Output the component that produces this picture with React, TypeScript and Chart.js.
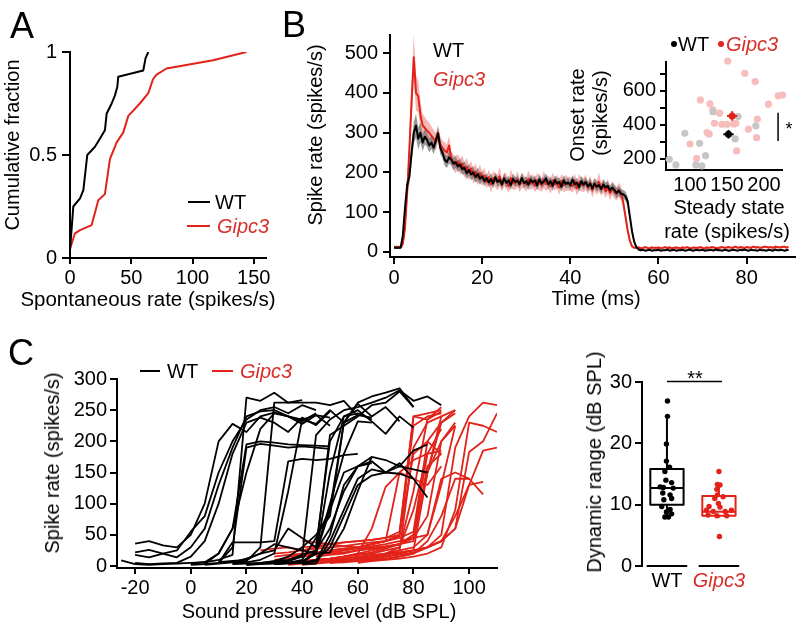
import React, { useEffect, useRef } from 'react';
import { Chart, registerables } from 'chart.js';

Chart.register(...registerables);

const FONT = "'Liberation Sans', Arial, Helvetica, sans-serif";
Chart.defaults.font.family = FONT;
Chart.defaults.color = '#000';

const BLACK = '#000000';
const RED = '#e2231a';
const RED_TEXT = '#d7302a';
const PINK_BAND = 'rgba(242,150,150,0.7)';
const GRAY_BAND = 'rgba(110,110,110,0.7)';
const GRAY_DOT = '#c6c6c6';
const PINK_DOT = '#f7bdbd';

// ---------------- Panel A: cumulative spontaneous rate ----------------
const wtSpontRate = [0, 2.7, 8.2, 10.9, 14.1, 20.4, 24.5, 28.5, 29.9, 34, 36.7, 38.6, 39.4, 59.8, 61.7, 63.9];
const wtCumFraction = [0.037, 0.25, 0.29, 0.33, 0.5, 0.54, 0.58, 0.62, 0.7, 0.75, 0.79, 0.83, 0.88, 0.91, 0.97, 1];
const gipc3SpontRate = [0, 4.1, 8.2, 17.7, 23.1, 28.5, 32.6, 38, 43.5, 47.6, 57, 63.9, 67.9, 70.7, 78.8, 116.8, 144];
const gipc3CumFraction = [0.045, 0.12, 0.135, 0.16, 0.28, 0.31, 0.48, 0.56, 0.61, 0.69, 0.75, 0.8, 0.87, 0.89, 0.92, 0.96, 1];
const cdfXTicks = [0, 50, 100, 150];
const cdfYTicks = [0, 0.5, 1];

// ---------------- Panel B: PSTH (0.5 ms bins) ----------------
const binMs = 0.5;
const wtRate = [
  10, 10, 10, 10, 40, 110, 168, 190, 250, 300,
  318, 285, 300, 275, 290, 282, 268, 275, 262, 280,
  298, 262, 250, 232, 226, 238, 232, 222, 226, 215,
  220, 208, 212, 198, 206, 195, 200, 188, 196, 184,
  190, 178, 186, 175, 183, 172, 188, 176, 181, 170,
  185, 174, 180, 168, 184, 176, 179, 171, 186, 173,
  178, 169, 182, 175, 180, 167, 183, 172, 177, 185,
  170, 178, 166, 181, 172, 176, 164, 180, 171, 175,
  168, 182, 170, 174, 163, 178, 169, 176, 165, 172,
  160, 172, 164, 168, 158, 170, 162, 166, 155, 162,
  156, 148, 154, 146, 145, 140, 128, 90, 52, 25,
  12, 6, 4, 5, 3, 4, 5, 3, 4, 4,
  5, 3, 4, 4, 6, 3, 4, 5, 3, 4,
  4, 5, 3, 4, 6, 4, 3, 5, 4, 4,
  5, 3, 4, 4, 5, 3, 6, 4, 4, 3,
  5, 4, 3, 4, 5, 4, 3, 5, 4, 6,
  4, 3, 5, 4, 4, 3, 5, 4, 4, 3,
  5, 4, 3, 6, 4, 4, 5, 3, 4, 5,
];
const gipc3Rate = [
  12, 12, 12, 12, 20, 60, 150, 260, 380, 490,
  400, 392, 345, 318, 312, 305, 300, 292, 285, 276,
  300, 270, 262, 255, 250, 268, 235, 225, 220, 228,
  214, 222, 206, 215, 200, 210, 192, 202, 188, 198,
  185, 192, 176, 188, 170, 186, 180, 175, 190, 168,
  182, 178, 165, 186, 175, 172, 183, 168, 180, 176,
  170, 184, 172, 178, 166, 180, 174, 168, 182, 171,
  176, 165, 180, 170, 177, 162, 179, 168, 174, 170,
  172, 165, 178, 160, 176, 170, 168, 175, 162, 174,
  156, 170, 162, 176, 158, 166, 152, 165, 148, 160,
  152, 146, 156, 148, 125, 90, 55, 28, 14, 10,
  10, 11, 9, 10, 12, 10, 9, 11, 10, 10,
  11, 9, 10, 12, 10, 11, 9, 10, 11, 10,
  9, 11, 10, 12, 10, 9, 11, 10, 10, 12,
  10, 9, 11, 10, 12, 11, 10, 9, 11, 12,
  10, 11, 12, 10, 11, 13, 10, 12, 11, 10,
  12, 11, 10, 13, 11, 12, 10, 11, 13, 12,
  11, 12, 10, 13, 12, 11, 12, 13, 11, 12,
];
const wtSem = [
  3, 3, 3, 3, 10, 15, 20, 20, 25, 28,
  30, 28, 25, 22, 20, 18, 18, 16, 16, 16,
  15, 16, 14, 15, 15, 16, 14, 15, 15, 14,
  15, 14, 16, 15, 14, 15, 15, 14, 16, 15,
  12, 13, 11, 12, 14, 12, 11, 13, 12, 12,
  13, 12, 11, 12, 13, 12, 12, 11, 13, 12,
  12, 13, 12, 11, 12, 13, 12, 12, 11, 12,
  13, 12, 12, 11, 13, 12, 12, 13, 11, 12,
  12, 11, 13, 12, 12, 13, 12, 11, 12, 13,
  12, 12, 13, 11, 12, 12, 13, 12, 11, 12,
  12, 13, 12, 12, 11, 12, 12, 10, 8, 6,
  2, 2, 2, 2, 2, 2, 2, 2, 2, 2,
  2, 2, 2, 2, 2, 2, 2, 2, 2, 2,
  2, 2, 2, 2, 2, 2, 2, 2, 2, 2,
  2, 2, 2, 2, 2, 2, 2, 2, 2, 2,
  2, 2, 2, 2, 2, 2, 2, 2, 2, 2,
  2, 2, 2, 2, 2, 2, 2, 2, 2, 2,
  2, 2, 2, 2, 2, 2, 2, 2, 2, 2,
];
const gipc3Sem = [
  4, 4, 4, 4, 10, 20, 30, 40, 50, 58,
  45, 40, 35, 30, 28, 26, 25, 24, 22, 22,
  20, 22, 18, 21, 20, 24, 19, 20, 22, 18,
  20, 21, 19, 22, 20, 18, 21, 20, 19, 22,
  18, 20, 16, 19, 22, 17, 18, 20, 24, 16,
  18, 19, 17, 22, 18, 16, 20, 18, 19, 17,
  18, 21, 17, 18, 16, 20, 18, 17, 22, 18,
  17, 18, 20, 16, 18, 19, 17, 18, 20, 17,
  18, 16, 19, 18, 20, 17, 18, 19, 16, 18,
  19, 17, 18, 24, 17, 18, 16, 19, 18, 17,
  18, 17, 18, 18, 15, 12, 10, 6, 4, 3,
  3, 3, 3, 3, 3, 3, 3, 3, 3, 3,
  3, 3, 3, 3, 3, 3, 3, 3, 3, 3,
  3, 3, 3, 3, 3, 3, 3, 3, 3, 3,
  3, 3, 3, 3, 3, 3, 3, 3, 3, 3,
  3, 3, 3, 3, 3, 3, 3, 3, 3, 3,
  3, 3, 3, 3, 3, 3, 3, 3, 3, 3,
  3, 3, 3, 3, 3, 3, 3, 3, 3, 3,
];
const psthXTicks = [0, 20, 40, 60, 80];
const psthYTicks = [0, 100, 200, 300, 400, 500];

// ---------------- Panel B inset: onset vs steady-state ----------------
const wtSteady = [72, 81, 93, 113, 108, 116, 121, 131, 165, 161, 189];
const wtOnset = [198, 165, 351, 292, 165, 159, 219, 478, 449, 318, 394];
const gipc3Steady = [151, 174, 188, 219, 225, 206, 114, 127, 131, 140, 191, 133, 143, 150, 159, 162, 179, 123, 126, 190, 100, 163, 109];
const gipc3Onset = [776, 704, 655, 571, 576, 522, 547, 524, 488, 469, 435, 410, 404, 404, 406, 410, 375, 355, 347, 325, 288, 247, 203];
const wtMean = { steady: 152, steadySem: 7, onset: 345, onsetSem: 25 };
const gipc3Mean = { steady: 157, steadySem: 7, onset: 453, onsetSem: 28 };
const insetSigSteady = 219;
const insetSigOnset = [306, 471];
const insetXTicks = [100, 150, 200];
const insetYTicks = [200, 300, 400, 500, 600, 700];

// ---------------- Panel C: rate-level functions ----------------
const levelStep = 5;
const wtStartLevels = [-20, -20, -20, -20, -25, 0, 5, 10, 15, 15, 20, 15, 20, 25, 30, 35, 30, 40, 40, 30, 10, 40, 0, 5];
const wtRates = [
  [36, 40, 33, 30, 50, 100, 200, 228, 215, 240, 246, 240, 232, 245],
  [22, 26, 20, 14, 30, 60, 130, 190, 240, 248, 250, 240, 228, 242, 225],
  [18, 14, 20, 25, 55, 80, 150, 200, 235, 250, 255, 245, 258, 250],
  [5, 3, 4, 5, 15, 40, 100, 180, 230, 238, 230, 215, 238, 226, 248],
  [9, 3, 2, 3, 4, 5, 6, 10, 18, 270, 265, 278, 262, 266],
  [4, 6, 20, 60, 195, 200, 198, 195, 194, 193, 192],
  [3, 20, 60, 150, 220, 245, 240, 235, 242, 238],
  [5, 38, 38, 38, 40, 168, 172, 170, 172, 178, 180],
  [5, 8, 30, 262, 262, 262, 262, 258, 265, 240],
  [4, 6, 10, 20, 120, 235, 228, 250, 230, 242, 238],
  [2, 4, 8, 15, 30, 50, 80, 230, 260, 240, 255, 232],
  [3, 4, 5, 6, 8, 15, 210, 235, 250, 255, 262, 270, 282, 265, 272, 258],
  [2, 3, 4, 5, 8, 20, 90, 230, 262, 272, 278, 285, 255],
  [5, 8, 10, 18, 25, 210, 225, 240, 258, 262, 280, 255],
  [4, 5, 6, 20, 150, 240, 250, 232, 212, 240, 222],
  [5, 6, 22, 100, 180, 232, 230],
  [3, 4, 5, 25, 60, 120, 160, 165],
  [5, 10, 30, 80, 130, 145, 150, 148, 140, 110],
  [4, 8, 50, 130, 160, 168, 150, 160, 155, 150],
  [3, 5, 10, 45, 90, 150, 160, 175, 170, 160, 185, 195],
  [6, 8, 10, 20, 25, 60, 45, 30, 200, 240, 245, 235],
  [3, 4, 40, 90, 140, 155, 150, 165, 140],
  [2, 3, 5, 30, 190, 196, 193, 190, 192, 190, 188],
  [2, 4, 6, 12, 20, 35, 30, 25, 20, 22, 60, 120, 175],
];
const gipc3StartLevels = [25, 30, 35, 40, 45, 50, 55, 35, 40, 45, 50, 50, 60, 60, 60, 40, 35, 45, 50, 30, 40, 60, 30, 45];
const gipc3Rates = [
  [25, 28, 30, 25, 30, 35, 38, 40, 42, 45, 55, 240, 245, 250],
  [20, 22, 25, 28, 30, 32, 35, 38, 40, 48, 225, 240, 245],
  [5, 8, 10, 12, 15, 18, 20, 25, 30, 120, 235, 248],
  [40, 38, 35, 32, 30, 35, 40, 50, 180, 200, 180],
  [10, 12, 15, 20, 25, 30, 35, 40, 160, 180],
  [5, 8, 10, 15, 20, 30, 90, 180, 220],
  [15, 20, 60, 127, 150, 140, 130, 160],
  [2, 4, 6, 8, 10, 12, 15, 20, 25, 30, 50, 130, 225],
  [8, 10, 12, 15, 18, 22, 28, 35, 45, 80, 200, 225],
  [15, 18, 20, 25, 28, 30, 35, 45, 50, 140, 150, 140],
  [10, 12, 15, 18, 20, 22, 25, 30, 40, 80, 130, 135],
  [5, 6, 8, 10, 12, 15, 20, 40, 80, 140, 140, 115],
  [8, 10, 12, 15, 20, 30, 50, 190, 240, 262, 258],
  [10, 12, 15, 18, 22, 30, 40, 60, 183, 200, 245],
  [5, 8, 10, 12, 15, 20, 30, 90, 230, 225, 215],
  [30, 32, 35, 38, 40, 42, 45, 50, 240, 235, 255],
  [15, 18, 20, 22, 25, 28, 30, 32, 35, 50, 150, 200, 230],
  [20, 22, 25, 30, 35, 40, 45, 55, 200, 230, 245],
  [25, 28, 30, 32, 35, 40, 45, 150, 240, 250],
  [10, 12, 15, 18, 20, 22, 25, 28, 30, 35, 50, 180, 185],
  [2, 4, 6, 8, 10, 12, 15, 20, 25, 150, 230, 250],
  [12, 14, 18, 22, 25, 30, 40, 60, 130, 185, 190],
  [15, 18, 20, 22, 25, 28, 30, 35, 40, 150, 170, 180],
  [8, 10, 12, 14, 16, 18, 25, 190, 230, 240],
];
const levelXTicks = [-20, 0, 20, 40, 60, 80, 100];
const rateYTicks = [0, 50, 100, 150, 200, 250, 300];

// ---------------- Panel C right: dynamic range ----------------
const groupNames = ['WT', 'Gipc3'];
const wtRange = [26.9, 24.4, 19.9, 17.1, 16.1, 15.4, 14.0, 13.6, 12.9, 12.8, 12.7, 11.9, 11.6, 11.0, 10.8, 9.7, 9.2, 8.8, 8.5, 8.0, 8.0];
const wtRangeX = [1.01, 1.01, 0.99, 0.99, 1.05, 0.96, 0.98, 1.09, 0.87, 0.93, 1.12, 0.92, 1.06, 1.09, 0.94, 0.9, 1.06, 0.99, 1.09, 0.96, 1.03];
const gipc3Range = [15.4, 13.3, 13.2, 12.5, 11.6, 11.3, 11.0, 10.2, 9.7, 9.6, 9.1, 8.9, 8.9, 9.1, 8.3, 8.2, 8.2, 4.8];
const gipc3RangeX = [2.0, 1.97, 2.02, 1.96, 1.97, 2.08, 1.92, 1.99, 1.81, 2.02, 1.76, 1.89, 2.12, 2.24, 1.79, 1.96, 2.15, 2.01];
const wtBox = { lo: 8.0, q1: 10.0, med: 12.7, q3: 15.8, hi: 24.0 };
const gipc3Box = { lo: 8.0, q1: 8.2, med: 8.85, q3: 11.4, hi: 13.3 };
const rangeSig = { from: 1, to: 2.06, level: 30.1 };
const rangeYTicks = [0, 10, 20, 30];
const groupTicks = [1, 2];

// ---------------- helpers ----------------
const tickFont = { family: FONT, size: 20 };
const zeroPad = (s: any) => {
  s.paddingLeft = 0; s.paddingRight = 0; s.paddingTop = 0; s.paddingBottom = 0;
};
const fitWidth = (w: number) => (s: any) => { s.width = w; zeroPad(s); };
const fitHeight = (h: number) => (s: any) => { s.height = h; zeroPad(s); };
const fixTicks = (vals: number[]) => (s: any) => { s.ticks = vals.map((value) => ({ value })); };

function valueAxis(o: any) {
  const horizontal = o.position === 'bottom';
  return {
    type: 'linear',
    position: o.position,
    min: o.min,
    max: o.max,
    afterBuildTicks: fixTicks(o.ticks),
    afterFit: horizontal ? fitHeight(o.size) : fitWidth(o.size),
    border: { display: o.showLine !== false, color: BLACK, width: 2 },
    grid: {
      display: o.drawTicks !== false,
      drawOnChartArea: false,
      drawTicks: o.drawTicks !== false,
      tickLength: o.tickLength ?? 7,
      tickWidth: 2,
      tickColor: BLACK,
      color: BLACK,
      lineWidth: 2,
    },
    ticks: {
      color: o.color ?? BLACK,
      font: o.font ?? tickFont,
      padding: o.padding ?? 4,
      autoSkip: false,
      maxRotation: 0,
      minRotation: 0,
      callback: o.callback ?? ((v: any) => String(v)),
    },
  };
}

function baseOptions(padding: any, scales: any) {
  return {
    responsive: false,
    animation: false,
    events: [],
    layout: { padding: { left: 0, right: 0, top: 0, bottom: 0, ...padding } },
    plugins: { legend: { display: false }, tooltip: { enabled: false } },
    elements: { point: { radius: 0 }, line: { tension: 0, borderJoinStyle: 'round' } },
    scales,
  };
}

const pairs = (xs: number[], ys: number[]) => xs.map((x, i) => ({ x, y: ys[i] }));
const seg = (x1: number, y1: number, x2: number, y2: number) => [{ x: x1, y: y1 }, { x: x2, y: y2 }];

function lineSet(data: any[], color: string, width = 2, extra: any = {}) {
  return { type: 'scatter', data, showLine: true, borderColor: color, borderWidth: width, pointRadius: 0, fill: false, ...extra };
}

// ---------------- configs ----------------
const cdfConfig = () => ({
  type: 'line',
  data: {
    datasets: [
      { data: pairs(wtSpontRate, wtCumFraction), borderColor: BLACK, borderWidth: 2, fill: false },
      { data: pairs(gipc3SpontRate, gipc3CumFraction), borderColor: RED, borderWidth: 2, fill: false },
    ],
  },
  options: baseOptions({ top: 52, right: 14 }, {
    x: valueAxis({ position: 'bottom', min: 0, max: 160, ticks: cdfXTicks, size: 52, tickLength: 6, padding: 2 }),
    y: valueAxis({ position: 'left', min: 0, max: 1, ticks: cdfYTicks, size: 70, tickLength: 8, padding: 5 }),
  }),
});

const psthConfig = () => {
  const t = wtRate.map((_, i) => i * binMs);
  const wt = t.map((x, i) => ({ x, y: wtRate[i] }));
  const gp = t.map((x, i) => ({ x, y: gipc3Rate[i] }));
  const wtHi = t.map((x, i) => ({ x, y: wtRate[i] + wtSem[i] }));
  const wtLo = t.map((x, i) => ({ x, y: wtRate[i] - wtSem[i] }));
  const gpHi = t.map((x, i) => ({ x, y: gipc3Rate[i] + gipc3Sem[i] }));
  const gpLo = t.map((x, i) => ({ x, y: gipc3Rate[i] - gipc3Sem[i] }));
  return {
    type: 'line',
    data: {
      datasets: [
        { data: wt, borderColor: BLACK, borderWidth: 2, fill: false, order: 1 },
        { data: gp, borderColor: RED, borderWidth: 2, fill: false, order: 2 },
        { data: wtHi, borderWidth: 0, borderColor: 'rgba(0,0,0,0)', backgroundColor: GRAY_BAND, fill: { target: 3 }, order: 3 },
        { data: wtLo, borderWidth: 0, borderColor: 'rgba(0,0,0,0)', fill: false, order: 3 },
        { data: gpHi, borderWidth: 0, borderColor: 'rgba(0,0,0,0)', backgroundColor: PINK_BAND, fill: { target: 5 }, order: 4 },
        { data: gpLo, borderWidth: 0, borderColor: 'rgba(0,0,0,0)', fill: false, order: 4 },
      ],
    },
    options: baseOptions({ top: 35, right: 0 }, {
      x: valueAxis({ position: 'bottom', min: -0.9, max: 91.2, ticks: psthXTicks, size: 53, tickLength: 7, padding: 2 }),
      y: valueAxis({ position: 'left', min: -13, max: 546, ticks: psthYTicks, size: 110, tickLength: 7, padding: 5 }),
    }),
  };
};

const insetConfig = () => ({
  type: 'scatter',
  data: {
    datasets: [
      { data: [{ x: wtMean.steady, y: wtMean.onset }], backgroundColor: BLACK, borderWidth: 0, pointRadius: 3.5, clip: false },
      { data: [{ x: gipc3Mean.steady, y: gipc3Mean.onset }], backgroundColor: RED, borderWidth: 0, pointRadius: 3.5, clip: false },
      lineSet(seg(wtMean.steady - wtMean.steadySem, wtMean.onset, wtMean.steady + wtMean.steadySem, wtMean.onset), BLACK, 2),
      lineSet(seg(wtMean.steady, wtMean.onset - wtMean.onsetSem, wtMean.steady, wtMean.onset + wtMean.onsetSem), BLACK, 2),
      lineSet(seg(gipc3Mean.steady - gipc3Mean.steadySem, gipc3Mean.onset, gipc3Mean.steady + gipc3Mean.steadySem, gipc3Mean.onset), RED, 2),
      lineSet(seg(gipc3Mean.steady, gipc3Mean.onset - gipc3Mean.onsetSem, gipc3Mean.steady, gipc3Mean.onset + gipc3Mean.onsetSem), RED, 2),
      lineSet(seg(insetSigSteady, insetSigOnset[0], insetSigSteady, insetSigOnset[1]), BLACK, 1.5),
      { data: pairs(wtSteady, wtOnset), backgroundColor: GRAY_DOT, borderWidth: 0, pointRadius: 3.6, clip: false },
      { data: pairs(gipc3Steady, gipc3Onset), backgroundColor: PINK_DOT, borderWidth: 0, pointRadius: 3.6, clip: false },
    ],
  },
  options: baseOptions({ top: 42, right: 14 }, {
    x: valueAxis({ position: 'bottom', min: 67.6, max: 224.3, ticks: insetXTicks, size: 75, drawTicks: false, padding: 3 }),
    y: valueAxis({
      position: 'left', min: 135, max: 770, ticks: insetYTicks, size: 106, tickLength: 6, padding: 4,
      callback: (v: any) => (v % 200 === 0 ? String(v) : ''),
    }),
  }),
});

const levelConfig = () => {
  const curve = (start: number, vals: number[]) => vals.map((y, j) => ({ x: start + j * levelStep, y }));
  const wtSets = wtRates.map((vals, k) => ({ data: curve(wtStartLevels[k], vals), borderColor: BLACK, borderWidth: 1.8, fill: false }));
  const gpSets = gipc3Rates.map((vals, k) => ({ data: curve(gipc3StartLevels[k], vals), borderColor: RED, borderWidth: 1.8, fill: false }));
  return {
    type: 'line',
    data: { datasets: [...wtSets, ...gpSets] },
    options: baseOptions({ top: 69, right: 63 }, {
      x: valueAxis({ position: 'bottom', min: -26.5, max: 110, ticks: levelXTicks, size: 56, tickLength: 6, padding: 2 }),
      y: valueAxis({ position: 'left', min: -3.2, max: 300, ticks: rateYTicks, size: 117, tickLength: 7, padding: 3 }),
    }),
  };
};

const boxSets = (b: any, center: number, color: string) => {
  const hw = 0.32;
  return [
    lineSet([
      { x: center - hw, y: b.q1 }, { x: center + hw, y: b.q1 }, { x: center + hw, y: b.q3 },
      { x: center - hw, y: b.q3 }, { x: center - hw, y: b.q1 },
    ], color, 2),
    lineSet(seg(center - hw, b.med, center + hw, b.med), color, 2),
    lineSet(seg(center, b.q3, center, b.hi), color, 2),
    lineSet(seg(center, b.q1, center, b.lo), color, 2),
  ];
};

const rangeConfig = () => ({
  type: 'scatter',
  data: {
    datasets: [
      lineSet(seg(rangeSig.from, rangeSig.level, rangeSig.to, rangeSig.level), BLACK, 1.5, { clip: false }),
      { data: pairs(wtRangeX, wtRange), backgroundColor: BLACK, borderWidth: 0, pointRadius: 2.7 },
      { data: pairs(gipc3RangeX, gipc3Range), backgroundColor: RED, borderWidth: 0, pointRadius: 2.7 },
      ...boxSets(wtBox, groupTicks[0], BLACK),
      ...boxSets(gipc3Box, groupTicks[1], RED),
      lineSet(seg(groupTicks[0] - 0.39, 0, groupTicks[0] + 0.39, 0), BLACK, 2, { clip: false }),
      lineSet(seg(groupTicks[1] - 0.39, 0, groupTicks[1] + 0.39, 0), BLACK, 2, { clip: false }),
    ],
  },
  options: baseOptions({ top: 72, right: 36 }, {
    x: valueAxis({
      position: 'bottom', min: 0.52, max: 2.79, ticks: groupTicks, size: 58, drawTicks: false, showLine: false, padding: 3,
      callback: (v: any) => groupNames[groupTicks.indexOf(v)] ?? '',
      color: (ctx: any) => (ctx.tick && ctx.tick.value === groupTicks[1] ? RED_TEXT : BLACK),
      font: (ctx: any) => ({ family: FONT, size: 20, style: ctx.tick && ctx.tick.value === groupTicks[1] ? 'italic' : 'normal' }),
    }),
    y: valueAxis({ position: 'left', min: 0, max: 30, ticks: rangeYTicks, size: 82, tickLength: 7, padding: 3 }),
  }),
});

// ---------------- components ----------------
function ChartBox({ left, top, width, height, make }: any) {
  const ref = useRef<HTMLCanvasElement>(null);
  useEffect(() => {
    const chart = new Chart(ref.current as HTMLCanvasElement, make());
    return () => chart.destroy();
  }, []);
  return (
    <canvas ref={ref} width={width} height={height}
      style={{ position: 'absolute', left, top, width, height }} />
  );
}

function Txt({ x, y, children, size = 20, color = BLACK, italic = false, rotate = false, align = 'center' }: any) {
  const tx = align === 'center' ? '-50%' : '0';
  return (
    <div style={{
      position: 'absolute', left: x, top: y, whiteSpace: 'nowrap', lineHeight: 1,
      fontFamily: FONT, fontSize: size, color, fontStyle: italic ? 'italic' : 'normal',
      transform: `translate(${tx}, -50%)${rotate ? ' rotate(-90deg)' : ''}`,
    }}>{children}</div>
  );
}

function Dash({ x1, x2, y, color }: any) {
  return <div style={{ position: 'absolute', left: x1, top: y - 1, width: x2 - x1, height: 2, background: color }} />;
}

function Dot({ x, y, color }: any) {
  return <div style={{ position: 'absolute', left: x - 3, top: y - 3, width: 6, height: 6, borderRadius: 3, background: color }} />;
}

export default function App() {
  return (
    <div style={{ position: 'absolute', left: 0, top: 0, width: 796, height: 624, overflow: 'hidden', background: '#fff', fontFamily: FONT }}>
      <ChartBox left={0} top={0} width={280} height={310} make={cdfConfig} />
      <ChartBox left={280} top={0} width={516} height={310} make={psthConfig} />
      <ChartBox left={560} top={20} width={236} height={225} make={insetConfig} />
      <ChartBox left={0} top={310} width={560} height={314} make={levelConfig} />
      <ChartBox left={560} top={310} width={236} height={314} make={rangeConfig} />

      {/* panel letters */}
      <Txt x={22} y={26} size={36}>A</Txt>
      <Txt x={294} y={25} size={36}>B</Txt>
      <Txt x={21} y={353} size={36}>C</Txt>

      {/* Panel A */}
      <Txt x={12} y={145} rotate>Cumulative fraction</Txt>
      <Txt x={148} y={299} size={20.5}>Spontaneous rate (spikes/s)</Txt>
      <Dash x1={188} x2={210} y={202} color={BLACK} />
      <Txt x={215} y={202} align="left">WT</Txt>
      <Dash x1={187} x2={210} y={226} color={RED} />
      <Txt x={217} y={226} align="left" italic color={RED_TEXT}>Gipc3</Txt>

      {/* Panel B */}
      <Txt x={315} y={135} rotate>Spike rate (spikes/s)</Txt>
      <Txt x={596} y={298}>Time (ms)</Txt>
      <Txt x={433} y={50} align="left">WT</Txt>
      <Txt x={433} y={79} align="left" italic color={RED_TEXT}>Gipc3</Txt>

      {/* Inset */}
      <Dot x={674} y={44} color={BLACK} />
      <Txt x={678} y={44} align="left">WT</Txt>
      <Dot x={721} y={44} color={RED} />
      <Txt x={726} y={44} align="left" italic color={RED_TEXT}>Gipc3</Txt>
      <Txt x={577} y={115} rotate>Onset rate</Txt>
      <Txt x={600} y={113} rotate>(spikes/s)</Txt>
      <Txt x={729} y={207}>Steady state</Txt>
      <Txt x={727} y={231}>rate (spikes/s)</Txt>
      <Txt x={789} y={129} size={18}>*</Txt>

      {/* Panel C */}
      <Txt x={52} y={463} rotate>Spike rate (spikes/s)</Txt>
      <Txt x={319} y={611}>Sound pressure level (dB SPL)</Txt>
      <Dash x1={140} x2={160} y={371} color={BLACK} />
      <Txt x={167} y={371} align="left">WT</Txt>
      <Dash x1={212} x2={233} y={371} color={RED} />
      <Txt x={240} y={371} align="left" italic color={RED_TEXT}>Gipc3</Txt>

      {/* Panel C right */}
      <Txt x={594} y={462} rotate>Dynamic range (dB SPL)</Txt>
      <Txt x={695} y={378} size={20}>**</Txt>
    </div>
  );
}
